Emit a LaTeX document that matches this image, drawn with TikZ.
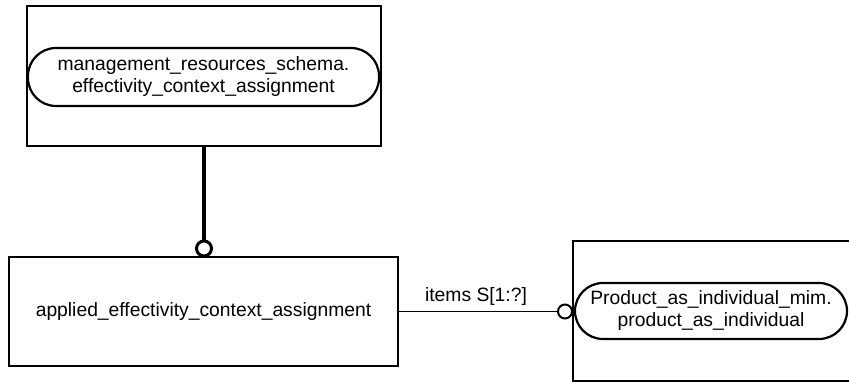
\documentclass[tikz,border=0pt]{standalone}
\usepackage{fontspec}
\setmainfont{Liberation Sans}
\begin{document}
\begin{tikzpicture}[x=1pt,y=-1pt,
  every node/.style={font=\fontsize{19.3}{22}\selectfont, inner sep=0pt},
  entbox/.style={draw, line width=2.4pt, rectangle},
  refoval/.style={draw, line width=2.2pt, rectangle, rounded corners=28pt, align=center},
  ringend/.style={draw, circle, fill=white}]
\useasboundingbox (0,0) rectangle (849,383);

%Upper box with oval
\node [entbox, minimum width=354, minimum height=140] (top) at (204,76) {};
\node [refoval, minimum width=351, minimum height=58] (topoval) at (203.5,77) {management\_resources\_schema.\\effectivity\_context\_assignment};

%Lower box
\node [entbox, minimum width=389, minimum height=109] (main) at (203.5,311.5) {applied\_effectivity\_context\_assignment};

%Right box with oval
\node [entbox, minimum width=278, minimum height=140] (right) at (712,311) {};
\node [refoval, minimum width=272, minimum height=56] (rightoval) at (711,311) {Product\_as\_individual\_mim.\\product\_as\_individual};

%Ring ends
\node [ringend, line width=3pt, minimum size=15] (ring1) at (204,248.5) {};
\node [ringend, line width=2pt, minimum size=14] (ring2) at (565,311.5) {};

%Connectors
\draw [line width=3.5pt] (top.south) to (ring1.north);
\draw [line width=1.8pt] (main.east) to (ring2.west);
\node [] (items) at (476,297) {items S[1:?]};
\end{tikzpicture}
\end{document}
